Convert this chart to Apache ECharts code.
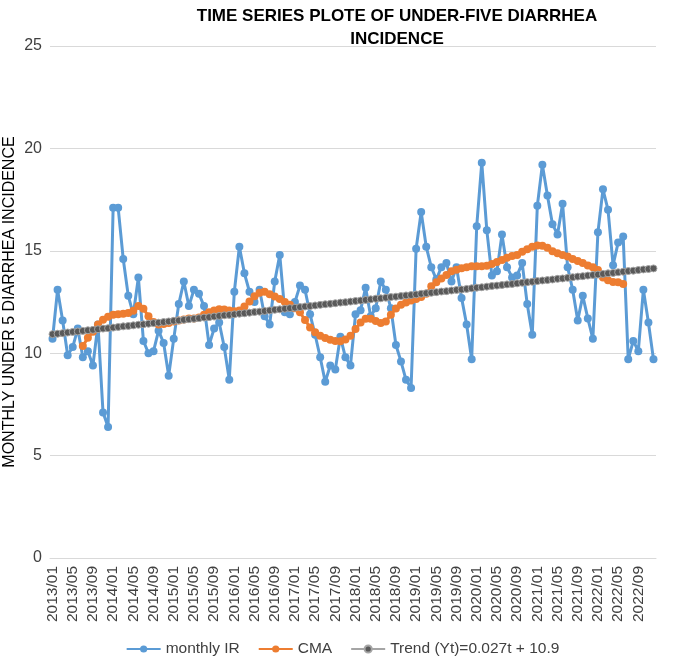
<!DOCTYPE html>
<html>
<head>
<meta charset="utf-8">
<script src="https://cdn.jsdelivr.net/npm/echarts@6/dist/echarts.min.js"></script>
<style>
  html, body { margin: 0; padding: 0; background: #fff; }
  #chart { width: 685px; height: 657px; }
</style>
</head>
<body>
<div id="chart"></div>
<script>
// 月份类目 2013/01 - 2022/12
var years = [2013, 2014, 2015, 2016, 2017, 2018, 2019, 2020, 2021, 2022];
var months = ['01', '02', '03', '04', '05', '06', '07', '08', '09', '10', '11', '12'];
var categories = [];
years.forEach(function (y) {
    months.forEach(function (m) { categories.push(y + '/' + m); });
});

// monthly IR
var monthlyIR = [
    10.7, 13.1, 11.6, 9.9, 10.3, 11.2, 9.8, 10.1, 9.4, 11.4, 7.1, 6.4,
    17.1, 17.1, 14.6, 12.8, 11.9, 13.7, 10.6, 10.0, 10.1, 11.1, 10.5, 8.9,
    10.7, 12.4, 13.5, 12.3, 13.1, 12.9, 12.3, 10.4, 11.2, 11.5, 10.3, 8.7,
    13.0, 15.2, 13.9, 13.0, 12.5, 13.1, 11.8, 11.4, 13.5, 14.8, 12.0, 11.9,
    12.5, 13.3, 13.1, 11.9, 10.9, 9.8, 8.6, 9.4, 9.2, 10.8, 9.8, 9.4,
    11.9, 12.1, 13.2, 11.8, 12.2, 13.5, 13.1, 12.2, 10.4, 9.6, 8.7, 8.3,
    15.1, 16.9, 15.2, 14.2, 13.6, 14.2, 14.4, 13.5, 14.2, 12.7, 11.4, 9.7,
    16.2, 19.3, 16.0, 13.8, 14.0, 15.8, 14.2, 13.7, 13.8, 14.4, 12.4, 10.9,
    17.2, 19.2, 17.7, 16.3, 15.8, 17.3, 14.2, 13.1, 11.6, 12.8, 11.7, 10.7,
    15.9, 18.0, 17.0, 14.3, 15.4, 15.7, 9.7, 10.6, 10.1, 13.1, 11.5, 9.7
];

// CMA: 2013/07 - 2022/06
var cmaStart = 6;
var cmaValues = [
    10.35, 10.75, 11.05, 11.4, 11.63, 11.78,
    11.88, 11.9, 11.93, 11.96, 12.07, 12.3, 12.17, 11.8, 11.52, 11.4, 11.42, 11.47,
    11.55, 11.6, 11.65, 11.7, 11.7, 11.74, 11.88, 12.0, 12.08, 12.15, 12.13, 12.09,
    12.05, 12.09, 12.28, 12.53, 12.78, 12.95, 13.0, 12.88, 12.77, 12.65, 12.5, 12.37,
    12.2, 12.0, 11.62, 11.26, 11.02, 10.85, 10.74, 10.66, 10.6, 10.58, 10.67, 10.85,
    11.18, 11.5, 11.68, 11.68, 11.57, 11.47, 11.55, 11.88, 12.18, 12.37, 12.48, 12.57,
    12.65, 12.74, 12.9, 13.27, 13.47, 13.65, 13.82, 14.0, 14.08, 14.15, 14.2, 14.24,
    14.25, 14.25, 14.27, 14.35, 14.45, 14.55, 14.66, 14.74, 14.8, 14.95, 15.08, 15.2,
    15.26, 15.25, 15.15, 14.98, 14.88, 14.8, 14.72, 14.6, 14.5, 14.4, 14.28, 14.2,
    14.06, 13.7, 13.56, 13.48, 13.46, 13.38
];

// Trend (Yt)=0.027t + 10.9
var trendValues = [
    10.93, 10.95, 10.98, 11.01, 11.04, 11.06, 11.09, 11.12, 11.14, 11.17, 11.20, 11.22,
    11.25, 11.28, 11.31, 11.33, 11.36, 11.39, 11.41, 11.44, 11.47, 11.49, 11.52, 11.55,
    11.58, 11.60, 11.63, 11.66, 11.68, 11.71, 11.74, 11.76, 11.79, 11.82, 11.85, 11.87,
    11.90, 11.93, 11.95, 11.98, 12.01, 12.03, 12.06, 12.09, 12.12, 12.14, 12.17, 12.20,
    12.22, 12.25, 12.28, 12.30, 12.33, 12.36, 12.39, 12.41, 12.44, 12.47, 12.49, 12.52,
    12.55, 12.57, 12.60, 12.63, 12.66, 12.68, 12.71, 12.74, 12.76, 12.79, 12.82, 12.84,
    12.87, 12.90, 12.93, 12.95, 12.98, 13.01, 13.03, 13.06, 13.09, 13.11, 13.14, 13.17,
    13.20, 13.22, 13.25, 13.28, 13.30, 13.33, 13.36, 13.38, 13.41, 13.44, 13.47, 13.49,
    13.52, 13.55, 13.57, 13.60, 13.63, 13.65, 13.68, 13.71, 13.74, 13.76, 13.79, 13.82,
    13.84, 13.87, 13.90, 13.92, 13.95, 13.98, 14.01, 14.03, 14.06, 14.09, 14.11, 14.14
];

var cmaData = categories.map(function (c, i) {
    var k = i - cmaStart;
    return (k >= 0 && k < cmaValues.length) ? cmaValues[k] : null;
});

var font = 'Liberation Sans, Arial, sans-serif';
var myChart = echarts.init(document.getElementById('chart'));
myChart.setOption({
    animation: false,
    title: {
        text: 'TIME SERIES PLOTE OF UNDER-FIVE DIARRHEA\nINCIDENCE',
        left: 392,
        top: 0,
        textAlign: 'center',
        textStyle: { fontFamily: font, fontSize: 17, fontWeight: 'bold', color: '#000', lineHeight: 23 }
    },
    legend: {
        top: 636,
        left: 'center',
        itemWidth: 34,
        itemHeight: 9,
        itemGap: 18,
        textStyle: { fontFamily: font, fontSize: 15.5, color: '#404040' },
        data: ['monthly IR', 'CMA', 'Trend (Yt)=0.027t + 10.9']
    },
    grid: { left: 50, right: 29, top: 46, bottom: 99, outerBoundsMode: 'none', containLabel: false },
    xAxis: {
        type: 'category',
        data: categories,
        boundaryGap: true,
        axisLine: { lineStyle: { color: '#d9d9d9' } },
        axisTick: { show: false },
        axisLabel: {
            interval: 3,
            rotate: 90,
            fontFamily: font,
            fontSize: 15.5,
            color: '#404040',
            margin: 8
        }
    },
    yAxis: {
        type: 'value',
        min: 0,
        max: 25,
        interval: 5,
        name: 'MONTHLY UNDER 5 DIARRHEA INCIDENCE',
        nameLocation: 'middle',
        nameGap: 32,
        nameMoveOverlap: false,
        nameTextStyle: { fontFamily: font, fontSize: 16, color: '#000' },
        axisLine: { show: false },
        axisTick: { show: false },
        axisLabel: { fontFamily: font, fontSize: 16, color: '#404040', margin: 8 },
        splitLine: { lineStyle: { color: '#d9d9d9' } }
    },
    series: [{
        name: 'monthly IR',
        type: 'line',
        data: monthlyIR,
        symbol: 'circle',
        symbolSize: 8,
        showAllSymbol: true,
        lineStyle: { color: '#5b9bd5', width: 3 },
        itemStyle: { color: '#5b9bd5' },
        z: 2
    }, {
        name: 'CMA',
        type: 'line',
        data: cmaData,
        symbol: 'circle',
        symbolSize: 8,
        showAllSymbol: true,
        lineStyle: { color: '#ed7d31', width: 3 },
        itemStyle: { color: '#ed7d31' },
        z: 3
    }, {
        name: 'Trend (Yt)=0.027t + 10.9',
        type: 'line',
        data: trendValues,
        symbol: 'circle',
        symbolSize: 7,
        showAllSymbol: true,
        lineStyle: { color: '#a5a5a5', width: 3 },
        itemStyle: { color: '#595959', borderColor: '#a5a5a5', borderWidth: 1 },
        z: 4
    }]
});
</script>
</body>
</html>
